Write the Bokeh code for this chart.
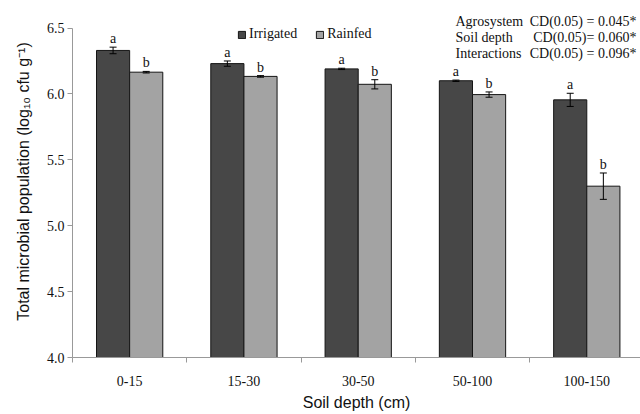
from bokeh.plotting import figure
from bokeh.models import (Range1d, FixedTicker, ColumnDataSource, Whisker, TeeHead,
                          Legend, LegendItem, Label)
from bokeh.core.properties import value
from bokeh.embed import file_html
from bokeh.resources import INLINE

# ---- data ----
depths = ["0-15", "15-30", "30-50", "50-100", "100-150"]
irrigated = [6.33, 6.23, 6.19, 6.10, 5.955]
rainfed = [6.165, 6.133, 6.073, 5.995, 5.30]
irrigated_err = [0.025, 0.02, 0.005, 0.005, 0.05]
rainfed_err = [0.006, 0.006, 0.035, 0.02, 0.10]
irrigated_letters = ["a", "a", "a", "a", "a"]
rainfed_letters = ["b", "b", "b", "b", "b"]
cd_factors = ["Agrosystem", "Soil depth", "Interactions"]
cd_texts = ["CD(0.05) = 0.045*", "CD(0.05)= 0.060*", "CD(0.05) = 0.096*"]
y_ticks = [4.0, 4.5, 5.0, 5.5, 6.0, 6.5]

SERIF = "Liberation Serif"
SANS = "Liberation Sans"
IRR_COLOR = "#474747"
RAIN_COLOR = "#a3a3a3"

n = len(depths)
centers = [i + 0.5 for i in range(n)]
x_irr = [c - 0.145 for c in centers]
x_rain = [c + 0.145 for c in centers]

p = figure(width=640, height=414, x_range=Range1d(0, 4.97), y_range=Range1d(4.0, 6.671),
           output_backend="svg", toolbar_location=None,
           min_border_left=72, min_border_right=0, min_border_top=5, min_border_bottom=57)
p.outline_line_color = None
p.xgrid.grid_line_color = None
p.ygrid.grid_line_color = None
p.background_fill_color = "white"
p.border_fill_color = "white"

src_irr = ColumnDataSource(dict(x=x_irr, top=irrigated, err=irrigated_err,
                                lower=[v - e for v, e in zip(irrigated, irrigated_err)],
                                upper=[v + e for v, e in zip(irrigated, irrigated_err)],
                                lab=irrigated_letters))
src_rain = ColumnDataSource(dict(x=x_rain, top=rainfed, err=rainfed_err,
                                 lower=[v - e for v, e in zip(rainfed, rainfed_err)],
                                 upper=[v + e for v, e in zip(rainfed, rainfed_err)],
                                 lab=rainfed_letters))

r_irr = p.vbar(x="x", top="top", bottom=4.0, width=0.29, source=src_irr,
               fill_color=IRR_COLOR, line_color="#151515", line_width=1)
r_rain = p.vbar(x="x", top="top", bottom=4.0, width=0.29, source=src_rain,
                fill_color=RAIN_COLOR, line_color="#151515", line_width=1)

for src in (src_irr, src_rain):
    w = Whisker(base="x", lower="lower", upper="upper", source=src, level="overlay",
                line_color="black", line_width=1,
                upper_head=TeeHead(size=7, line_color="black", line_width=1),
                lower_head=TeeHead(size=7, line_color="black", line_width=1))
    p.add_layout(w)
    p.text(x="x", y="upper", text="lab", source=src, text_align="center",
           text_baseline="bottom", y_offset=-1,
           text_font=value(SERIF), text_font_size="14px",
           text_color="#111111", level="overlay")

# legend
legend = Legend(items=[LegendItem(label="Irrigated", renderers=[r_irr]),
                       LegendItem(label="Rainfed", renderers=[r_rain])],
                orientation="horizontal", location=(165, 315),
                border_line_alpha=0, background_fill_alpha=0, padding=0, margin=0,
                spacing=18, label_standoff=3, glyph_width=9, glyph_height=9,
                label_height=14, label_text_font=SERIF, label_text_font_size="14px",
                label_text_color="#111111")
p.add_layout(legend)

# CD annotations
y_lines = [6.548, 6.430, 6.310]
for fac, txt, yy in zip(cd_factors, cd_texts, y_lines):
    p.add_layout(Label(x=3.351, y=yy, text=fac, text_font=SERIF, text_font_size="14px",
                       text_baseline="middle", text_align="left", text_color="#111111"))
    p.add_layout(Label(x=4.934, y=yy, text=txt, text_font=SERIF, text_font_size="14px",
                       text_baseline="middle", text_align="right", text_color="#111111"))

AX = "#999999"
# x axis
xa = p.xaxis[0]
xa.ticker = FixedTicker(ticks=centers, minor_ticks=list(range(n)))
xa.major_label_overrides = {c: d for c, d in zip(centers, depths)}
xa.major_tick_out = 0
xa.major_tick_in = 0
xa.minor_tick_out = 5
xa.minor_tick_in = 0
xa.minor_tick_line_color = AX
xa.axis_line_color = AX
xa.major_label_standoff = 13
xa.major_label_text_font = SERIF
xa.major_label_text_font_size = "14px"
xa.major_label_text_color = "#111111"
xa.axis_label = "Soil depth (cm)"
xa.axis_label_text_font = SANS
xa.axis_label_text_font_size = "16px"
xa.axis_label_text_font_style = "normal"
xa.axis_label_text_color = "#111111"
xa.axis_label_standoff = 5

# y axis
ya = p.yaxis[0]
ya.ticker = FixedTicker(ticks=y_ticks)
ya.bounds = (4.0, 6.5)
ya.major_label_overrides = {t: f"{t:.1f}" for t in y_ticks}
ya.major_tick_out = 5
ya.major_tick_in = 0
ya.minor_tick_out = 0
ya.minor_tick_in = 0
ya.major_tick_line_color = AX
ya.axis_line_color = AX
ya.major_label_standoff = 3
ya.major_label_text_font = SERIF
ya.major_label_text_font_size = "14px"
ya.major_label_text_color = "#111111"
ya.axis_label = "Total microbial population (log\u2081\u2080 cfu g\u207b\u00b9)"
ya.axis_label_text_font = SANS
ya.axis_label_text_font_size = "16px"
ya.axis_label_text_font_style = "normal"
ya.axis_label_text_color = "#111111"
ya.axis_label_standoff = 12

open("out.html", "w").write(file_html(p, INLINE))
